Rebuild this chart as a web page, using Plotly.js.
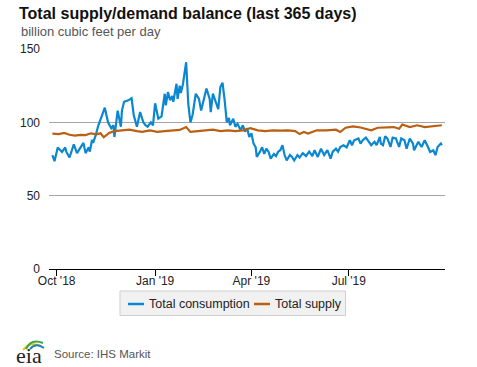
<!DOCTYPE html>
<html>
<head>
<meta charset="utf-8">
<script src="https://cdn.plot.ly/plotly-3.0.1.min.js"></script>
<style>
html,body{margin:0;padding:0;background:#fff;}
#chart{width:477px;height:367px;}
</style>
</head>
<body>
<div id="chart"></div>
<script>
const consumptionDates = ["2018-09-27","2018-09-29","2018-10-02","2018-10-06","2018-10-09","2018-10-10","2018-10-13","2018-10-17","2018-10-20","2018-10-24","2018-10-26","2018-10-28","2018-10-31","2018-11-01","2018-11-03","2018-11-04","2018-11-06","2018-11-09","2018-11-14","2018-11-15","2018-11-18","2018-11-21","2018-11-23","2018-11-24","2018-11-27","2018-11-30","2018-12-01","2018-12-03","2018-12-07","2018-12-10","2018-12-12","2018-12-15","2018-12-18","2018-12-21","2018-12-23","2018-12-25","2018-12-28","2018-12-30","2019-01-01","2019-01-04","2019-01-07","2019-01-10","2019-01-11","2019-01-13","2019-01-15","2019-01-17","2019-01-18","2019-01-21","2019-01-22","2019-01-24","2019-01-25","2019-01-27","2019-01-30","2019-02-01","2019-02-03","2019-02-05","2019-02-08","2019-02-11","2019-02-13","2019-02-15","2019-02-18","2019-02-21","2019-02-22","2019-02-24","2019-02-27","2019-03-01","2019-03-03","2019-03-05","2019-03-07","2019-03-09","2019-03-11","2019-03-12","2019-03-15","2019-03-17","2019-03-19","2019-03-22","2019-03-24","2019-03-26","2019-03-28","2019-03-30","2019-04-01","2019-04-03","2019-04-05","2019-04-06","2019-04-09","2019-04-11","2019-04-13","2019-04-15","2019-04-17","2019-04-19","2019-04-22","2019-04-24","2019-04-26","2019-04-28","2019-04-30","2019-05-02","2019-05-04","2019-05-07","2019-05-09","2019-05-11","2019-05-14","2019-05-16","2019-05-19","2019-05-22","2019-05-25","2019-05-28","2019-05-30","2019-06-02","2019-06-05","2019-06-08","2019-06-11","2019-06-14","2019-06-16","2019-06-19","2019-06-21","2019-06-23","2019-06-26","2019-06-29","2019-07-02","2019-07-04","2019-07-06","2019-07-10","2019-07-12","2019-07-14","2019-07-17","2019-07-20","2019-07-22","2019-07-25","2019-07-27","2019-07-30","2019-07-31","2019-08-02","2019-08-04","2019-08-06","2019-08-09","2019-08-11","2019-08-14","2019-08-17","2019-08-19","2019-08-22","2019-08-24","2019-08-27","2019-08-30","2019-08-31","2019-09-04","2019-09-07","2019-09-10","2019-09-13","2019-09-15","2019-09-18","2019-09-20","2019-09-22","2019-09-25","2019-09-26"];
const consumptionValues = [77.6,73.5,82.8,79.8,82.9,80,76,85,79,84,86,79,83,80,88,86,90,98,109,110,100,96,98,90,108,97,108,114,115,116.5,105,97,107,100,98,97,100,98,113,102.5,104,119.5,111.6,120.6,115,118,114,126.3,116,125,120,126,141,112.7,100,105,119.5,116,108,115,123,116,107,119.5,114,109,124,127,115,100,103,98,102.5,97,99,94.6,98,93.6,96,90,92.5,85.5,83,76.4,80,83,78.5,82,80,75.3,78.5,77,80,81,84.4,77.7,74.1,77.7,76.4,74,77.7,76,79,77,80,77,81,76.4,82,77.7,81,75.3,80,82,80,83.2,84.4,83,87.8,84.4,87.8,89,85.5,87.8,89.6,86.7,84.4,86.7,84.4,90,85.5,84.4,90.5,89,83.2,89.6,89,83.2,89,87.8,82,89,85.5,81,86.7,83.2,87.8,83.2,79.8,81,77.6,83.2,85.5,84.4];

const supplyDates = ["2018-09-27","2018-10-03","2018-10-08","2018-10-13","2018-10-18","2018-10-23","2018-10-28","2018-11-02","2018-11-07","2018-11-11","2018-11-14","2018-11-19","2018-11-24","2018-12-01","2018-12-08","2018-12-15","2018-12-20","2018-12-27","2019-01-03","2019-01-10","2019-01-17","2019-01-24","2019-01-30","2019-02-03","2019-02-10","2019-02-17","2019-02-24","2019-03-03","2019-03-10","2019-03-17","2019-03-24","2019-03-31","2019-04-07","2019-04-14","2019-04-21","2019-04-28","2019-05-05","2019-05-12","2019-05-16","2019-05-20","2019-05-24","2019-06-01","2019-06-10","2019-06-19","2019-06-23","2019-06-28","2019-07-05","2019-07-12","2019-07-18","2019-07-22","2019-07-28","2019-08-05","2019-08-12","2019-08-17","2019-08-20","2019-08-27","2019-09-03","2019-09-10","2019-09-17","2019-09-26"];
const supplyValues = [92.3,92,92.8,91.5,91,91.5,91.3,92.5,91.8,92.5,89.8,92.8,94,94.5,95,94,93.5,94.5,93.5,94,94.5,94.8,96.8,93.5,94,94.5,95,94,94.5,94,94.5,96,94.5,94,94.5,94.3,94.5,94,92,93.4,92.3,94.6,94.5,95,93.4,96.3,97.2,96.5,95.6,94.6,96.3,96.5,96.8,95.6,98.5,96.8,98,96.8,97.3,98];

const seriesNames = ["Total consumption", "Total supply"];
const seriesColors = ["#0b87d2", "#bb5f12"];
const tickDates = ["2018-10-01","2019-01-01","2019-04-01","2019-07-01"];
const tickLabels = ["Oct '18","Jan '19","Apr '19","Jul '19"];
const yTicks = [0, 50, 100, 150];

const FONT = '"Liberation Sans", Arial, sans-serif';
// pixel -> paper helpers (plot area: x 49..445, y 49..269)
const px = x => (x - 49) / 396;
const py = y => (269 - y) / 220;

const traces = [
  {x: consumptionDates, y: consumptionValues, name: seriesNames[0], type: 'scatter', mode: 'lines',
   line: {color: seriesColors[0], width: 2.2}},
  {x: supplyDates, y: supplyValues, name: seriesNames[1], type: 'scatter', mode: 'lines',
   line: {color: seriesColors[1], width: 2.2}}
];

const layout = {
  width: 477, height: 367,
  margin: {l: 49, r: 32, t: 49, b: 98},
  paper_bgcolor: '#fff', plot_bgcolor: '#fff',
  font: {family: FONT, size: 12, color: '#333'},
  title: {text: 'Total supply/demand balance (last 365 days)', xref: 'container', yref: 'container',
          x: 19/477, xanchor: 'left', y: 1 - 13.5/367, yanchor: 'middle',
          font: {family: FONT, size: 16, weight: 'bold', color: '#111'}},
  xaxis: {type: 'date', range: ['2018-09-23 20:00', '2019-09-28 22:00'],
          tickmode: 'array', tickvals: tickDates, ticktext: tickLabels,
          ticks: 'outside', ticklen: 6, tickcolor: '#000', tickwidth: 1,
          ticklabelstandoff: -5,
          showline: true, linecolor: '#000', linewidth: 1, showgrid: false, zeroline: false,
          tickfont: {family: FONT, size: 12, color: '#222'}, fixedrange: true},
  yaxis: {range: [0, 150], tickmode: 'array', tickvals: yTicks,
          showgrid: true, gridcolor: '#a6a6a6', gridwidth: 1, zeroline: false, showline: false,
          ticks: '', ticklabelstandoff: 8,
          tickfont: {family: FONT, size: 12, color: '#222'}, fixedrange: true},
  showlegend: false,
  annotations: [
    {text: 'billion cubic feet per day', xref: 'paper', yref: 'paper', x: px(19), y: py(31.5),
     xanchor: 'left', yanchor: 'middle', showarrow: false,
     font: {family: FONT, size: 13, color: '#555'}},
    {text: 'Source: IHS Markit', xref: 'paper', yref: 'paper', x: px(52), y: py(354),
     xanchor: 'left', yanchor: 'middle', showarrow: false,
     font: {family: FONT, size: 11.5, color: '#555'}},
    {text: 'eia', xref: 'paper', yref: 'paper', x: px(14), y: py(355),
     xanchor: 'left', yanchor: 'middle', showarrow: false,
     font: {family: '"Liberation Serif", "DejaVu Serif", serif', size: 22, color: '#222'}},
    // legend texts
    {text: seriesNames[0], xref: 'paper', yref: 'paper', x: px(147), y: py(304),
     xanchor: 'left', yanchor: 'middle', showarrow: false,
     font: {family: FONT, size: 12.5, color: '#222'}},
    {text: seriesNames[1], xref: 'paper', yref: 'paper', x: px(273), y: py(304),
     xanchor: 'left', yanchor: 'middle', showarrow: false,
     font: {family: FONT, size: 12.5, color: '#222'}}
  ],
  shapes: [
    // legend box
    {type: 'rect', xref: 'paper', yref: 'paper', x0: px(120), x1: px(345.5), y0: py(291), y1: py(315.5),
     fillcolor: '#f1f1f1', line: {color: '#cfcfcf', width: 1}, layer: 'below'},
    {type: 'line', xref: 'paper', yref: 'paper', x0: px(128), x1: px(144), y0: py(304), y1: py(304),
     line: {color: seriesColors[0], width: 2.5}},
    {type: 'line', xref: 'paper', yref: 'paper', x0: px(254), x1: px(270), y0: py(304), y1: py(304),
     line: {color: seriesColors[1], width: 2.5}},
    // eia logo swooshes
    {type: 'path', xref: 'paper', yref: 'paper', line: {color: '#f2c200', width: 2},
     path: `M ${px(23)},${py(350)} Q ${px(30)},${py(341)} ${px(41)},${py(346)}`},
    {type: 'path', xref: 'paper', yref: 'paper', line: {color: '#3aa648', width: 2},
     path: `M ${px(26)},${py(349)} Q ${px(31)},${py(338)} ${px(43)},${py(343)}`},
    {type: 'path', xref: 'paper', yref: 'paper', line: {color: '#1d7fc4', width: 2},
     path: `M ${px(30)},${py(349)} Q ${px(36)},${py(342)} ${px(44)},${py(348)}`}
  ]
};

Plotly.newPlot('chart', traces, layout, {displayModeBar: false, staticPlot: true});
</script>
</body>
</html>
